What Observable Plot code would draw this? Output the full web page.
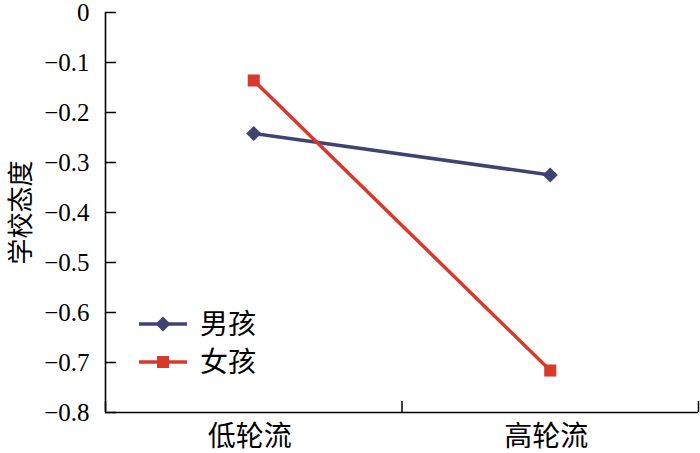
<!DOCTYPE html>
<html>
<head>
<meta charset="utf-8">
<script src="https://cdn.jsdelivr.net/npm/d3@7"></script>
<script src="https://cdn.jsdelivr.net/npm/@observablehq/plot@0.6"></script>
<style>
  html, body { margin: 0; padding: 0; background: #fff; }
  #wrap { position: relative; width: 700px; height: 453px; }
  #legend { position: absolute; left: 0; top: 0; pointer-events: none; }
</style>
</head>
<body>
<div id="wrap"></div>
<script>
const categories = ["低轮流", "高轮流"];
const seriesNames = ["男孩", "女孩"];
const boysValues = [-0.242, -0.325];
const girlsValues = [-0.136, -0.716];
const yTicks = [0, -0.1, -0.2, -0.3, -0.4, -0.5, -0.6, -0.7, -0.8];
const yTickLabels = ["0", "−0.1", "−0.2", "−0.3", "−0.4", "−0.5", "−0.6", "−0.7", "−0.8"];
const yLabel = "学校态度";

const colors = ["#3e4471", "#d8392c"];
const symbols = ["diamond2", "square"];

const data = [];
categories.forEach((c, i) => {
  data.push({cat: c, idx: i + 0.5, series: seriesNames[0], value: boysValues[i]});
  data.push({cat: c, idx: i + 0.5, series: seriesNames[1], value: girlsValues[i]});
});

const serifFont = "Liberation Serif, serif";
const cjkFont = "'Noto Sans CJK SC', sans-serif";

const boundaryTicks = d3.range(categories.length + 1);
const centerTicks = categories.map((c, i) => i + 0.5);

const chart = Plot.plot({
  width: 700,
  height: 453,
  marginTop: 12,
  marginBottom: 41,
  marginLeft: 105,
  marginRight: 2,
  style: {background: "#fff", color: "#000"},
  x: {type: "linear", domain: [0, categories.length], axis: null},
  y: {domain: [-0.8, 0], axis: null},
  color: {domain: seriesNames, range: colors},
  symbol: {domain: seriesNames, range: symbols},
  marks: [
    Plot.ruleX([0], {stroke: "#000", strokeWidth: 1.6}),
    Plot.ruleY([-0.8], {stroke: "#000", strokeWidth: 1.6}),
    Plot.axisY({
      ticks: yTicks,
      tickSize: -11,
      tickFormat: () => "",
      strokeWidth: 1.5,
      label: null
    }),
    Plot.text(yTicks, {
      y: (d) => d,
      text: (d) => yTickLabels[yTicks.indexOf(d)],
      frameAnchor: "left",
      textAnchor: "end",
      dx: -16,
      fontSize: 25,
      fontFamily: serifFont,
      fill: "#000"
    }),
    Plot.axisX({
      ticks: boundaryTicks,
      tickSize: -11,
      tickFormat: () => "",
      strokeWidth: 1.5,
      label: null
    }),
    Plot.text(centerTicks, {
      x: (d) => d,
      text: (d) => categories[Math.floor(d)],
      frameAnchor: "bottom",
      lineAnchor: "middle",
      dx: -4,
      dy: 25,
      fontSize: 28,
      fontFamily: cjkFont,
      fill: "#000"
    }),
    Plot.text([yLabel], {
      frameAnchor: "left",
      textAnchor: "middle",
      rotate: -90,
      dx: -84,
      fontSize: 26,
      fontFamily: cjkFont,
      fill: "#000"
    }),
    Plot.line(data, {x: "idx", y: "value", stroke: "series", strokeWidth: 3.5, z: "series"}),
    Plot.dot(data, {x: "idx", y: "value", symbol: "series", fill: "series", stroke: "none", r: 6.8})
  ]
});

const wrap = document.getElementById("wrap");
wrap.appendChild(chart);

// Legend overlay
const leg = d3.select(wrap).append("svg")
  .attr("id", "legend")
  .attr("width", 700).attr("height", 453);
const legendY = [324, 362];
seriesNames.forEach((name, i) => {
  const g = leg.append("g").attr("transform", `translate(139,${legendY[i]})`);
  g.append("line").attr("x1", 0).attr("x2", 48).attr("y1", 0).attr("y2", 0)
    .attr("stroke", colors[i]).attr("stroke-width", 3.5);
  const sym = symbols[i] === "square" ? d3.symbolSquare : d3.symbolDiamond2;
  g.append("path").attr("d", d3.symbol(sym, Math.PI * 6.8 * 6.8)())
    .attr("transform", "translate(24,0)").attr("fill", colors[i]);
  g.append("text").attr("x", 61).attr("y", 0).attr("dy", "0.35em")
    .attr("font-family", cjkFont).attr("font-size", 28).attr("fill", "#000")
    .text(name);
});
</script>
</body>
</html>
